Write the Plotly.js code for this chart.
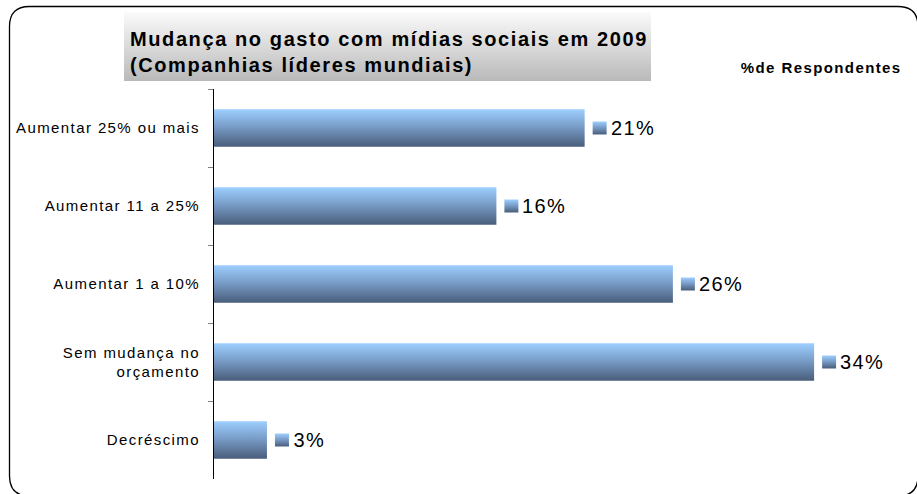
<!DOCTYPE html>
<html>
<head>
<meta charset="utf-8">
<script src="https://cdn.plot.ly/plotly-3.0.1.min.js"></script>
<style>
  html, body { margin: 0; padding: 0; background: #fff; }
  #chart { width: 917px; height: 494px; }
  #chart text { letter-spacing: 1.4px; }
  #chart .gtitle { letter-spacing: 1.6px; }
</style>
</head>
<body>
<div id="chart"></div>
<script>
// ---- data ----
const categories = ['Aumentar 25% ou mais', 'Aumentar 11 a 25%', 'Aumentar 1 a 10%', 'Sem mudança no<br>orçamento', 'Decréscimo'];
const values = [21, 16, 26, 34, 3];
const valueLabels = ['21%', '16%', '26%', '34%', '3%'];
const titleLines = ['Mudança no gasto com mídias sociais em 2009', '(Companhias líderes mundiais)'];
const unitLabel = '%de Respondentes';

// ---- layout geometry (pixels) ----
const W = 917, H = 494;
const M = { l: 214, r: 32, t: 89, b: 15 };
const plotW = W - M.l - M.r, plotH = H - M.t - M.b;
const px2x = px => (px - M.l) / plotW;
const py2y = py => (H - M.b - py) / plotH;
const FONT = 'Liberation Sans, Arial, sans-serif';

function roundedRectPath(x0, y0, x1, y1, r) {
  const P = (x, y) => px2x(x).toFixed(5) + ',' + py2y(y).toFixed(5);
  return 'M' + P(x0 + r, y0) + ' L' + P(x1 - r, y0) + ' Q' + P(x1, y0) + ' ' + P(x1, y0 + r) +
         ' L' + P(x1, y1 - r) + ' Q' + P(x1, y1) + ' ' + P(x1 - r, y1) +
         ' L' + P(x0 + r, y1) + ' Q' + P(x0, y1) + ' ' + P(x0, y1 - r) +
         ' L' + P(x0, y0 + r) + ' Q' + P(x0, y0) + ' ' + P(x0 + r, y0) + ' Z';
}

const shapes = [
  { type: 'path', xref: 'paper', yref: 'paper', path: roundedRectPath(9.5, 6.5, 918, 496, 20),
    line: { color: '#000', width: 1.3 }, fillcolor: 'rgba(0,0,0,0)', layer: 'below' },
  { type: 'rect', xref: 'paper', yref: 'paper', x0: px2x(124), x1: px2x(651), y0: py2y(81), y1: py2y(12),
    line: { width: 0 }, fillcolor: '#d8d8d8', layer: 'below' }
];
values.forEach((v, i) => {
  shapes.push({ type: 'rect', xref: 'x', yref: 'y', xsizemode: 'pixel', ysizemode: 'pixel',
    xanchor: v, yanchor: categories[i], x0: 8, x1: 22, y0: -6.5, y1: 6.5,
    line: { width: 0 }, fillcolor: '#7394bd', layer: 'above' });
});

const annotations = values.map((v, i) => ({
  x: v, y: categories[i], xref: 'x', yref: 'y', text: valueLabels[i],
  xanchor: 'left', yanchor: 'middle', xshift: 26, showarrow: false,
  font: { family: FONT, size: 20, color: '#000' }
}));
annotations.push({
  x: px2x(750), y: py2y(67), xref: 'paper', yref: 'paper', text: '<b>' + unitLabel + '</b>',
  xanchor: 'left', yanchor: 'middle', showarrow: false,
  font: { family: FONT, size: 15, color: '#000' }
});

const trace = {
  type: 'bar', orientation: 'h', x: values, y: categories,
  marker: { color: '#7394bd', line: { width: 0 } },
  hoverinfo: 'none'
};

const layout = {
  width: W, height: H,
  margin: M,
  paper_bgcolor: '#fff', plot_bgcolor: 'rgba(0,0,0,0)',
  showlegend: false,
  bargap: 0.52,
  title: {
    text: titleLines.map(t => '<b>' + t + '</b>').join('<br>'),
    x: 130 / W, xref: 'container', xanchor: 'left',
    y: 1 - 46 / H, yref: 'container', yanchor: 'middle',
    font: { family: FONT, size: 20, color: '#000' }
  },
  xaxis: { range: [0, plotW / 17.65], visible: false, fixedrange: true },
  yaxis: {
    type: 'category', autorange: 'reversed',
    showline: true, linecolor: '#000', linewidth: 1,
    ticks: 'outside', tickson: 'boundaries', ticklen: 5, tickcolor: '#808080', tickwidth: 1,
    showgrid: false, zeroline: false,
    ticklabelstandoff: 10,
    tickfont: { family: FONT, size: 15, color: '#000' },
    fixedrange: true
  },
  shapes: shapes,
  annotations: annotations
};

Plotly.newPlot('chart', [trace], layout, { displayModeBar: false, staticPlot: true }).then(gd => {
  const svg = gd.querySelector('svg.main-svg');
  const NS = 'http://www.w3.org/2000/svg';
  const defs = document.createElementNS(NS, 'defs');
  function grad(id, stops) {
    const g = document.createElementNS(NS, 'linearGradient');
    g.setAttribute('id', id);
    g.setAttribute('x1', '0'); g.setAttribute('y1', '0');
    g.setAttribute('x2', '0'); g.setAttribute('y2', '1');
    stops.forEach(([o, c]) => {
      const s = document.createElementNS(NS, 'stop');
      s.setAttribute('offset', o); s.setAttribute('stop-color', c);
      g.appendChild(s);
    });
    defs.appendChild(g);
  }
  grad('barGrad', [[0, '#9dcfff'], [0.5, '#7598c2'], [1, '#495d7a']]);
  grad('boxGrad', [[0, '#fbfbfb'], [1, '#b9b9b9']]);
  svg.insertBefore(defs, svg.firstChild);
  gd.querySelectorAll('.barlayer .point path').forEach(p => { p.style.fill = 'url(#barGrad)'; });
  gd.querySelectorAll('.shapelayer path').forEach(p => {
    const idx = +p.getAttribute('data-index');
    if (idx === 1) p.style.fill = 'url(#boxGrad)';
    else if (idx >= 2) p.style.fill = 'url(#barGrad)';
  });
});
</script>
</body>
</html>
